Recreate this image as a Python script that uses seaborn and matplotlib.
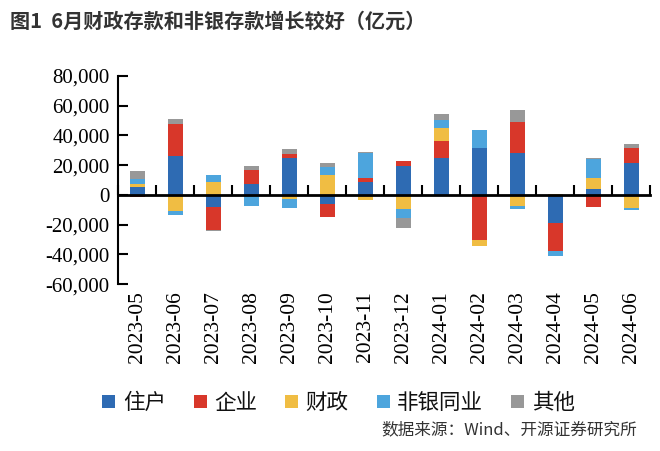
import numpy as np
import pandas as pd
import matplotlib
matplotlib.use("Agg")
import matplotlib.pyplot as plt
import seaborn as sns

months = ["2023-05", "2023-06", "2023-07", "2023-08", "2023-09", "2023-10", "2023-11",
          "2023-12", "2024-01", "2024-02", "2024-03", "2024-04", "2024-05", "2024-06"]
series_names = ["住户", "企业", "财政", "非银同业", "其他"]
household = [5100, 26200, -8000, 7600, 24800, -6300, 8700, 19500, 25000, 31800, 28400, -18800, 3800, 21200]
corporate = [-1300, 21200, -15400, 8900, 2500, -8700, 2700, 3400, 11400, -30200, 20600, -18600, -8000, 10100]
fiscal = [2500, -10700, 8900, 0, -2500, 13400, -3400, -9400, 8500, -4000, -7400, 700, 7800, -8500]
nonbank = [3100, -2900, 4200, -7400, -6500, 5400, 16600, -5800, 5800, 11600, -1800, -3400, 12500, -1600]
other = [5100, 3400, -900, 3100, 3600, 2500, 700, -7200, 4000, 0, 8100, 0, 700, 3100]
colors = ["#2E6BB3", "#D8372A", "#F0BD43", "#4DA5DD", "#989898"]
yticks = [-60000, -40000, -20000, 0, 20000, 40000, 60000, 80000]

sns.set_theme(style="white")
plt.rcParams['font.family'] = ['Noto Sans CJK SC', 'DejaVu Sans']

fig = plt.figure(figsize=(6.6, 4.51), dpi=100)
ax = fig.add_axes([0.179, 0.370, 0.806, 0.4615])

data = [household, corporate, fiscal, nonbank, other]
pos_cum = np.zeros(len(months))
neg_cum = np.zeros(len(months))
for name, vals, col in zip(series_names, data, colors):
    v = np.array(vals, dtype=float)
    bottom = np.where(v >= 0, pos_cum, neg_cum)
    df = pd.DataFrame({"month": months, "value": v})
    sns.barplot(data=df, x="month", y="value", bottom=bottom, color=col, width=0.4,
                saturation=1, ax=ax, label=name, linewidth=0, errorbar=None)
    pos_cum = pos_cum + np.where(v > 0, v, 0)
    neg_cum = neg_cum + np.where(v < 0, v, 0)

if ax.get_legend() is not None:
    ax.get_legend().remove()

n = len(months)
ax.set_xlim(-0.5, n - 0.5)
ax.set_ylim(yticks[0], yticks[-1])
ax.set_yticks(yticks)
ax.set_yticklabels([f"{t:,}" for t in yticks], family="Liberation Serif", fontsize=15)
ax.set_xlabel("")
ax.set_ylabel("")
for s in ["top", "right"]:
    ax.spines[s].set_visible(False)
ax.spines["left"].set_color("black")
ax.spines["left"].set_linewidth(1.5)
ax.spines["bottom"].set_position(("data", 0))
ax.spines["bottom"].set_color("black")
ax.spines["bottom"].set_linewidth(2)
ax.set_xticks(np.arange(-0.5, n, 1.0))
ax.set_xticklabels([])
ax.tick_params(axis="x", direction="in", length=7, width=1.5, color="black", bottom=True)
ax.tick_params(axis="y", direction="in", length=7, width=1.5, color="black", left=True, pad=6, labelcolor="black")

sec = ax.secondary_xaxis("bottom")
sec.set_xticks(range(n))
sec.set_xticklabels(months, rotation=90, family="Liberation Serif", fontsize=15.5, color="black")
sec.tick_params(length=0, pad=5)
sec.spines["bottom"].set_visible(False)

handles, labels = ax.get_legend_handles_labels()
fig.legend(handles, labels, loc="center", bbox_to_anchor=(0.513, 0.106), ncol=5, frameon=False,
           prop={"family": ["Noto Sans CJK SC"], "size": 15.5},
           handlelength=0.6, handleheight=0.6, handletextpad=0.35, columnspacing=1.3,
           labelcolor="#111111")

fig.text(0.015, 0.952, "图1  6月财政存款和非银存款增长较好（亿元）", fontsize=14.5, fontweight="bold",
         color="#333333", ha="left", va="center")
fig.text(0.965, 0.046, "数据来源：Wind、开源证券研究所", fontsize=12, color="#333333", ha="right", va="center")

fig.savefig("out.png", dpi=100)
